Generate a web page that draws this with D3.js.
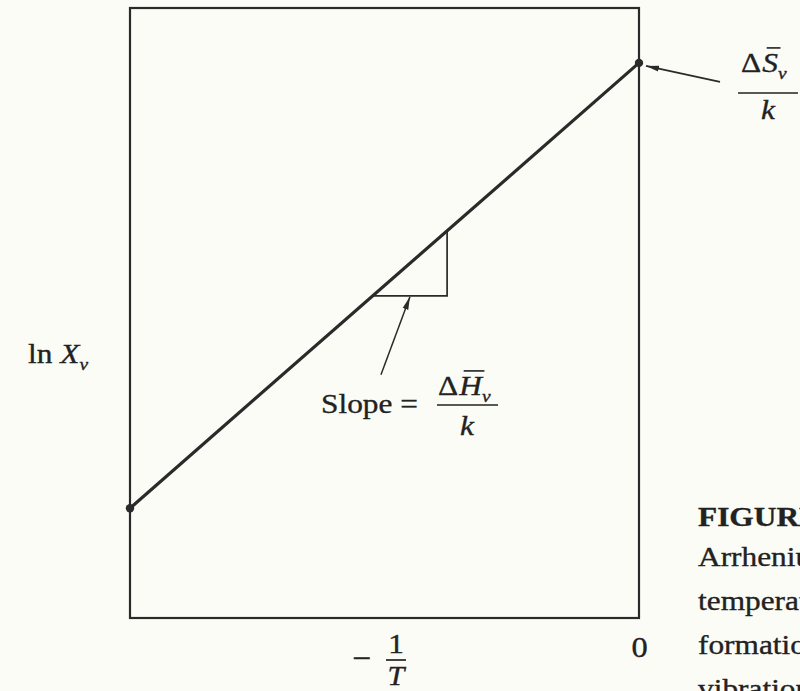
<!DOCTYPE html>
<html>
<head>
<meta charset="utf-8">
<script src="https://cdn.jsdelivr.net/npm/d3@7"></script>
<style>
  html, body { margin: 0; padding: 0; background: #fcfcf6; }
  svg { display: block; }
  text { font-family: "Liberation Serif", "Times New Roman", serif; fill: #222; stroke: #222; stroke-width: 0.35px; }
</style>
</head>
<body>
<script>
// Arrhenius plot of the equilibrium vacancy fraction: ln X_v against −1/T.
// The straight line meets 1/T = 0 at ΔS_v/k and rises with slope ΔH_v/k.

// ---- data ----
const xDomain = [-1, 0];            // −1/T (arbitrary units, 0 at the right edge)
const yDomain = [0, 1];             // ln X_v (arbitrary units)
const lineX = [-1, 0];              // ends of the Arrhenius line
const lineY = [0.18, 0.91];
const slopeRunX = [-0.523, -0.377]; // run of the slope triangle under the line
const xTickValues = [0];
const xTickLabels = ["0"];
const captionHead = "FIGURE 5.4";
const captionLines = ["Arrhenius plot of", "temperature", "formation enthalpy", "vibrational entropy"];

// ---- layout ----
const W = 800, H = 691;
const frame = { left: 130, right: 639, top: 8, bottom: 618 };
const FS = 28;        // base font size
const SX = 1.12;      // horizontal set width of the serif face
const INK = "#2a2a2a";

const svg = d3.select("body").append("svg")
  .attr("width", W).attr("height", H)
  .attr("viewBox", `0 0 ${W} ${H}`);

svg.append("rect").attr("width", W).attr("height", H).attr("fill", "#fcfcf6");

const x = d3.scaleLinear().domain(xDomain).range([frame.left, frame.right]);
const y = d3.scaleLinear().domain(yDomain).range([frame.bottom, frame.top]);

// arrowhead
svg.append("defs").append("marker")
  .attr("id", "head")
  .attr("viewBox", "0 0 13 8")
  .attr("refX", 13).attr("refY", 4)
  .attr("markerWidth", 13).attr("markerHeight", 8)
  .attr("markerUnits", "userSpaceOnUse")
  .attr("orient", "auto")
  .append("path").attr("d", "M0,1 L13,4 L0,7 Z").attr("fill", INK);

// plot frame
svg.append("rect")
  .attr("x", x(xDomain[0])).attr("y", y(yDomain[1]))
  .attr("width", x(xDomain[1]) - x(xDomain[0]))
  .attr("height", y(yDomain[0]) - y(yDomain[1]))
  .attr("fill", "none").attr("stroke", INK).attr("stroke-width", 2.2);

// x axis: only the 0 tick is labelled
const xAxis = d3.axisBottom(x)
  .tickValues(xTickValues)
  .tickFormat((d, i) => xTickLabels[i])
  .tickSize(0)
  .tickPadding(18);
const gx = svg.append("g").attr("transform", `translate(0,${frame.bottom})`).call(xAxis);
gx.select(".domain").remove();
gx.selectAll("text")
  .attr("font-size", FS + 1)
  .attr("font-family", "Liberation Serif, serif")
  .attr("fill", "#222")
  .attr("transform", `scale(${SX},1)`)
  .attr("dy", "0.71em");

// Arrhenius line and its two end points
const pts = lineX.map((v, i) => [v, lineY[i]]);
svg.append("path")
  .datum(pts)
  .attr("d", d3.line().x(d => x(d[0])).y(d => y(d[1])))
  .attr("fill", "none").attr("stroke", INK).attr("stroke-width", 3.2);
svg.selectAll("circle.end").data(pts).join("circle")
  .attr("class", "end")
  .attr("cx", d => x(d[0])).attr("cy", d => y(d[1]))
  .attr("r", 4.2).attr("fill", INK);

// slope triangle below the line
const lineAt = v => lineY[0] + (lineY[1] - lineY[0]) * (v - lineX[0]) / (lineX[1] - lineX[0]);
const tri = [
  [slopeRunX[0], lineAt(slopeRunX[0])],
  [slopeRunX[1], lineAt(slopeRunX[0])],
  [slopeRunX[1], lineAt(slopeRunX[1])]
];
svg.append("path")
  .datum(tri)
  .attr("d", d3.line().x(d => x(d[0])).y(d => y(d[1])))
  .attr("fill", "none").attr("stroke", INK).attr("stroke-width", 1.7);

// ---- text helpers ----
function stretched(px, py) {
  return svg.append("g").attr("transform", `translate(${px},${py}) scale(${SX},1)`);
}
function label(px, py, str, opts = {}) {
  return stretched(px, py).append("text")
    .attr("font-size", opts.size || FS)
    .attr("text-anchor", opts.anchor || "start")
    .attr("font-style", opts.italic ? "italic" : null)
    .attr("font-weight", opts.bold ? "bold" : null)
    .text(str);
}
// Δ + italic letter with an overbar + italic subscript, starting at px on baseline py
function deltaTerm(px, py, letter, sub) {
  const g = stretched(px, py);
  const d = g.append("text").attr("font-size", FS).text("Δ");
  const wd = d.node().getComputedTextLength();
  const L = g.append("text").attr("x", wd + 1).attr("font-size", FS)
    .attr("font-style", "italic").text(letter);
  const wl = L.node().getComputedTextLength();
  g.append("line")
    .attr("x1", wd + 1 + FS * 0.14).attr("x2", wd + 1 + wl + FS * 0.08)
    .attr("y1", -FS * 0.86).attr("y2", -FS * 0.86)
    .attr("stroke", "#222").attr("stroke-width", 1.6);
  g.append("text").attr("x", wd + 1 + wl).attr("y", FS * 0.24)
    .attr("font-size", FS * 0.62).attr("font-style", "italic").text(sub);
}
function fractionBar(x1, x2, py) {
  svg.append("line").attr("x1", x1).attr("x2", x2).attr("y1", py).attr("y2", py)
    .attr("stroke", "#222").attr("stroke-width", 1.7);
}

// y axis title: ln X_v
{
  const g = stretched(28, 363);
  const t = g.append("text").attr("font-size", FS);
  t.append("tspan").text("ln ");
  t.append("tspan").attr("font-style", "italic").text("X");
  t.append("tspan").attr("font-style", "italic").attr("font-size", FS * 0.62)
    .attr("dy", FS * 0.24).text("v");
}

// x axis title: −1/T
{
  const cx = 396;
  label(362, 668, "−", { size: FS + 2, anchor: "middle" });
  label(cx, 653, "1", { size: FS, anchor: "middle" });
  fractionBar(386, 406, 660);
  label(cx, 685, "T", { size: FS - 1, anchor: "middle", italic: true });
}

// annotation: intercept ΔS_v/k with arrow to the end point
{
  const px = x(lineX[1]), py = y(lineY[1]);
  svg.append("line")
    .attr("x1", px + 81).attr("y1", py + 19)
    .attr("x2", px + 7).attr("y2", py + 3)
    .attr("stroke", INK).attr("stroke-width", 1.7)
    .attr("marker-end", "url(#head)");
  deltaTerm(741, 72, "S", "v");
  fractionBar(738, 798, 93);
  label(768, 119, "k", { italic: true, anchor: "middle" });
}

// annotation: slope of the line with arrow to the triangle
{
  const tipX = x((slopeRunX[0] + slopeRunX[1]) / 2);
  const tipY = y(lineAt(slopeRunX[0])) + 1;
  svg.append("line")
    .attr("x1", tipX - 29).attr("y1", tipY + 78)
    .attr("x2", tipX).attr("y2", tipY)
    .attr("stroke", INK).attr("stroke-width", 1.5)
    .attr("marker-end", "url(#head)");
  label(321, 413, "Slope =");
  deltaTerm(438, 395, "H", "v");
  fractionBar(437, 498, 405);
  label(467, 435, "k", { italic: true, anchor: "middle" });
}

// caption, running off the right edge of the page
label(698, 526, captionHead, { bold: true });
captionLines.forEach((s, i) => {
  label(698, 566 + i * 44, s);
});
</script>
</body>
</html>
